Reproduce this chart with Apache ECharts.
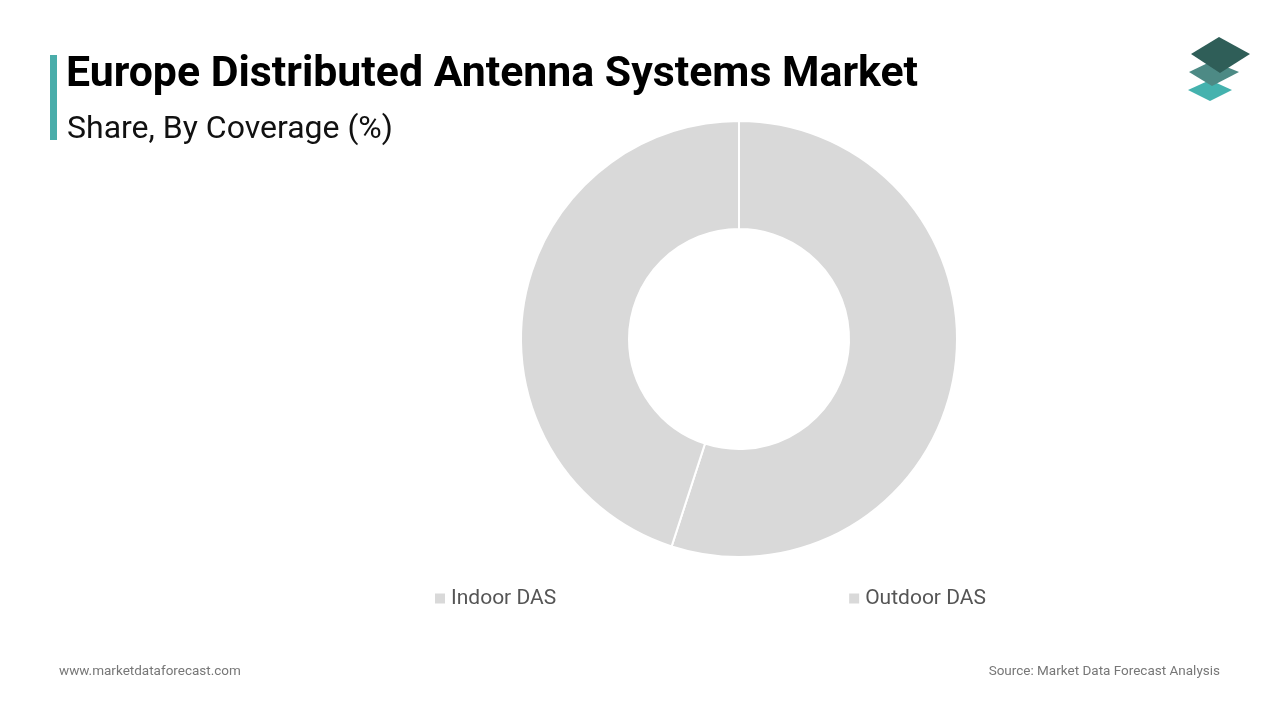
<!DOCTYPE html>
<html>
<head>
<meta charset="utf-8">
<script src="https://cdn.jsdelivr.net/npm/echarts@6/dist/echarts.min.js"></script>
<style>
html,body{margin:0;padding:0;background:#fff;}
#main{width:1280px;height:720px;}
</style>
</head>
<body>
<div id="main"></div>
<script>
const categories = ["Indoor DAS", "Outdoor DAS"];
const shares = [55, 45];
const sliceColors = ["#d9d9d9", "#d9d9d9"];

const chart = echarts.init(document.getElementById('main'));
chart.setOption({
  backgroundColor: '#ffffff',
  animation: false,
  title: [
    { text: 'Europe Distributed Antenna Systems Market', left: 61, top: 49,
      textStyle: { fontFamily: 'Roboto', fontWeight: 'bold', fontSize: 42.8, color: '#000' } },
    { text: 'Share, By Coverage (%)', left: 62, top: 109,
      textStyle: { fontFamily: 'Roboto', fontWeight: 'normal', fontSize: 32, color: '#111' } },
    { text: 'www.marketdataforecast.com', left: 54, top: 660,
      textStyle: { fontFamily: 'Roboto', fontWeight: 'normal', fontSize: 13.5, color: '#777' } },
    { text: 'Source: Market Data Forecast Analysis', right: 55, top: 660,
      textStyle: { fontFamily: 'Roboto', fontWeight: 'normal', fontSize: 13.5, color: '#777' } }
  ],
  legend: {
    data: categories,
    left: 428, top: 583,
    orient: 'horizontal',
    itemWidth: 12, itemHeight: 12, itemGap: 291,
    icon: 'rect',
    selectedMode: false,
    textStyle: { fontFamily: 'Roboto', fontSize: 21, color: '#555' }
  },
  graphic: [
    { type: 'rect', shape: { x: 50, y: 55, width: 7, height: 85 }, style: { fill: '#4aadaa' } },
    { type: 'polygon', shape: { points: [[1188,90],[1210,80],[1232,90],[1210,101]] }, style: { fill: '#44b2ae' } },
    { type: 'polygon', shape: { points: [[1189,72],[1212,61],[1239,72],[1212,86]] }, style: { fill: '#4d8a85' } },
    { type: 'polygon', shape: { points: [[1191,54],[1219,37],[1250,54],[1220,73]] }, style: { fill: '#2f5e58' } }
  ],
  series: [{
    type: 'pie',
    center: [739, 339],
    radius: [110, 218],
    startAngle: 90,
    clockwise: true,
    label: { show: false },
    labelLine: { show: false },
    emphasis: { disabled: true },
    itemStyle: { borderColor: '#ffffff', borderWidth: 2 },
    data: categories.map((c, i) => ({ name: c, value: shares[i], itemStyle: { color: sliceColors[i] } }))
  }]
});
</script>
</body>
</html>
